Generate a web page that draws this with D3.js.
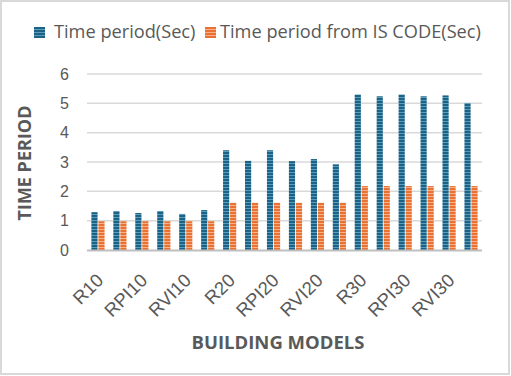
<!DOCTYPE html>
<html>
<head>
<meta charset="utf-8">
<script src="https://cdn.jsdelivr.net/npm/d3@7"></script>
<style>
  body { margin: 0; background: #fff; }
  svg { display: block; }
</style>
</head>
<body>
<div id="chartDiv"></div>
<script>
// building models (only every other label is shown on the axis)
var models = ["R10", "RP10", "RPI10", "RV10", "RVI10", "RS10",
              "R20", "RP20", "RPI20", "RV20", "RVI20", "RS20",
              "R30", "RP30", "RPI30", "RV30", "RVI30", "RS30"];
var shownLabels = ["R10", "RPI10", "RVI10", "R20", "RPI20", "RVI20", "R30", "RPI30", "RVI30"];
var timePeriod = [1.29, 1.33, 1.26, 1.33, 1.23, 1.36,
                  3.40, 3.04, 3.40, 3.03, 3.10, 2.92,
                  5.30, 5.24, 5.30, 5.24, 5.27, 5.01];
var isCode = [0.98, 0.98, 0.98, 0.98, 0.98, 0.98,
              1.61, 1.61, 1.61, 1.61, 1.61, 1.61,
              2.18, 2.18, 2.18, 2.18, 2.18, 2.18];
var seriesNames = ["Time period(Sec)", "Time period from IS CODE(Sec)"];
var yTicks = [0, 1, 2, 3, 4, 5, 6];

var W = 511, H = 376;
var margin = {top: 74, right: 29, bottom: 126, left: 87},
    width = W - margin.left - margin.right,
    height = H - margin.top - margin.bottom;

var svg = d3.select("#chartDiv").append("svg")
    .attr("width", W).attr("height", H)
    .style("font-family", "'Open Sans', 'Liberation Sans', Arial, sans-serif");

// striped fills
var defs = svg.append("defs");
function stripes(id, base, light) {
  var p = defs.append("pattern").attr("id", id)
      .attr("patternUnits", "userSpaceOnUse")
      .attr("width", 6).attr("height", 3);
  p.append("rect").attr("width", 6).attr("height", 3).attr("fill", base);
  p.append("rect").attr("y", 2).attr("width", 6).attr("height", 1).attr("fill", light);
}
stripes("blueStripe", "#1c6285", "#5a9cbb");
stripes("orangeStripe", "#e97132", "#f6b08a");
var fills = ["url(#blueStripe)", "url(#orangeStripe)"];

// chart border
svg.append("rect").attr("x", 1).attr("y", 1).attr("width", W - 3).attr("height", H - 3)
    .attr("fill", "#fff").attr("stroke", "#d9d9d9").attr("stroke-width", 2);

var g = svg.append("g").attr("transform", "translate(" + margin.left + "," + margin.top + ")");

var x = d3.scaleBand().domain(models).range([0, width]).paddingInner(0.4).paddingOuter(0.2);
var x1 = d3.scaleBand().domain([0, 1]).range([0, x.bandwidth()]).paddingInner(0.12);
var y = d3.scaleLinear().domain([0, 6]).range([height, 0]);

// gridlines
g.selectAll(".grid").data(yTicks.slice(1)).enter().append("line")
    .attr("x1", 0).attr("x2", width)
    .attr("y1", function(d) { return y(d); }).attr("y2", function(d) { return y(d); })
    .attr("stroke", "#d9d9d9").attr("stroke-width", 1.5);

// bars
var series = [timePeriod, isCode];
series.forEach(function(vals, s) {
  g.selectAll(".bar" + s).data(vals).enter().append("rect")
      .attr("x", function(d, i) { return x(models[i]) + x1(s); })
      .attr("y", function(d) { return y(d); })
      .attr("width", x1.bandwidth())
      .attr("height", function(d) { return height - y(d); })
      .attr("fill", fills[s]);
});

// axis line
g.append("line").attr("x1", 0).attr("x2", width).attr("y1", height + 0.5).attr("y2", height + 0.5)
    .attr("stroke", "#bfbfbf").attr("stroke-width", 2);

// y axis
var yAxis = g.append("g")
    .call(d3.axisLeft(y).tickValues(yTicks).tickFormat(d3.format("d")).tickSize(0).tickPadding(18));
yAxis.select(".domain").remove();
yAxis.selectAll("text").attr("fill", "#595959").style("font-size", "16px");

// x axis
var xAxis = g.append("g").attr("transform", "translate(0," + height + ")")
    .call(d3.axisBottom(x).tickValues(shownLabels).tickSize(0));
xAxis.select(".domain").remove();
xAxis.selectAll("text")
    .attr("fill", "#595959").style("font-size", "18.5px")
    .attr("text-anchor", "end")
    .attr("dy", "0.35em")
    .attr("y", 0).attr("x", 0)
    .attr("transform", "translate(2,27) rotate(-45)");

// axis titles
svg.append("text").attr("x", 278).attr("y", 349).attr("text-anchor", "middle")
    .attr("fill", "#595959").style("font-size", "18.5px").style("font-weight", "bold")
    .text("BUILDING MODELS");
svg.append("text").attr("transform", "translate(31,163) rotate(-90)").attr("text-anchor", "middle")
    .attr("fill", "#595959").style("font-size", "18px").style("font-weight", "bold")
    .text("TIME PERIOD");

// legend
var swatchX = [34, 205], textX = [54, 220];
seriesNames.forEach(function(name, s) {
  svg.append("rect").attr("x", swatchX[s]).attr("y", 27).attr("width", 11).attr("height", 11)
      .attr("fill", fills[s]);
  svg.append("text").attr("x", textX[s]).attr("y", 37.5)
      .attr("fill", "#595959").style("font-size", "18.2px").text(name);
});
</script>
</body>
</html>
